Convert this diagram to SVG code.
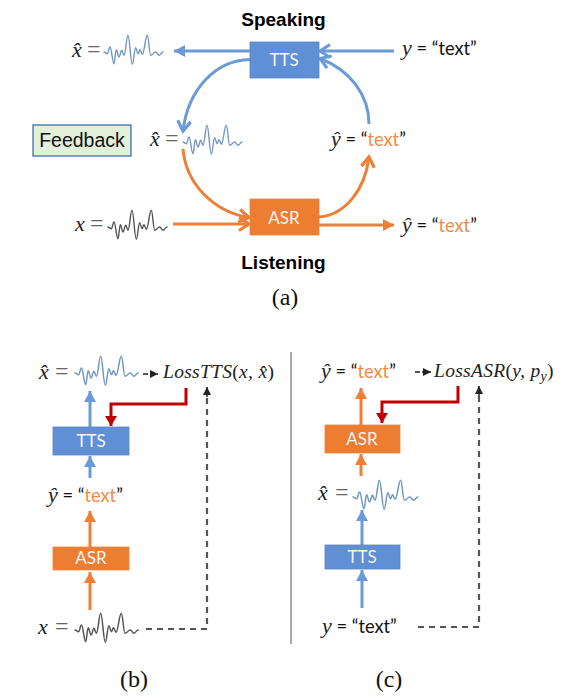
<svg xmlns="http://www.w3.org/2000/svg" width="563" height="699" viewBox="0 0 563 699">
<style>
.hd{font:bold 19px "Liberation Sans",Arial,sans-serif;fill:#000;text-anchor:middle}
.cap{font:24px "Liberation Serif","Times New Roman",serif;fill:#111;text-anchor:middle}
.box{font:17px Lato,"Open Sans",sans-serif;fill:#f6f6f6;text-anchor:middle}
.eq{font:18.3px Lato,"Open Sans",sans-serif;fill:#111}
.m{font-family:"Liberation Serif",serif;font-style:italic;font-size:22px;fill:#222}
.e{font-family:"Liberation Serif",serif;font-size:24px;fill:#666}
.o{fill:#f08a45}
.loss{font-family:"Liberation Serif",serif;font-style:italic;font-size:19.5px;fill:#222;letter-spacing:.3px}
.u{font-style:normal}
.t{fill:#5f90d6;stroke:#5b86c4;stroke-width:.8}
.a{fill:#ed7d31;stroke:#e8853d;stroke-width:.8}
.wave{fill:none;stroke-width:1.4;stroke-linejoin:round;stroke-linecap:round}
.wb{stroke:#7297c4}.wk{stroke:#555}
.c{fill:none;stroke-width:3}
.bl{stroke:#6b9ad9}.or{stroke:#ee7f35}.re{stroke:#c00000}
.da{fill:none;stroke:#555;stroke-width:2.2;stroke-dasharray:6 5}
.sm{fill:none;stroke:#222;stroke-width:1.5}
</style>
<defs>
<path id="w" d="M0 0C1.3 0 2 1.7 3.3 1.7C4.4 1.7 4.9 -5 6 -5C7.6 -5 8.4 11.7 10 11.7C10.9 11.7 11.4 -2.3 12.3 -2.3C13.4 -2.3 13.9 5 15 5C16.1 5 16.6 -1.7 17.7 -1.7C18.6 -1.7 19.1 3.3 20 3.3C21.6 3.3 22.4 -16.7 24 -16.7C25.7 -16.7 26.6 12.3 28.3 12.3C29.7 12.3 30.3 -4.3 31.7 -4.3C32.6 -4.3 33.1 1.7 34 1.7C34.8 1.7 35.2 -2.3 36 -2.3C36.9 -2.3 37.4 2.3 38.3 2.3C40.3 2.3 41.3 -16.7 43.3 -16.7C44.7 -16.7 45.3 3.3 46.7 3.3C48.7 3.3 49.7 0 51.7 0C53 0 53.7 3.3 55 3.3C56.6 3.3 57.4 0 59 0"/>
<marker id="fb" markerUnits="userSpaceOnUse" markerWidth="14" markerHeight="14" refX="11" refY="6" orient="auto"><path d="M0 0L11 6L0 12Z" fill="#6b9ad9"/></marker>
<marker id="fo" markerUnits="userSpaceOnUse" markerWidth="14" markerHeight="14" refX="11" refY="6" orient="auto"><path d="M0 0L11 6L0 12Z" fill="#ee7f35"/></marker>
<marker id="fr" markerUnits="userSpaceOnUse" markerWidth="14" markerHeight="14" refX="10" refY="6" orient="auto"><path d="M0 0L10 6L0 12Z" fill="#c00000"/></marker>
<marker id="fk" markerUnits="userSpaceOnUse" markerWidth="10" markerHeight="10" refX="8" refY="4" orient="auto"><path d="M0 0L8 4L0 8Z" fill="#222"/></marker>
<marker id="ob" markerUnits="userSpaceOnUse" markerWidth="16" markerHeight="18" refX="12" refY="8" orient="auto"><path d="M2 1.5L12 8L2 14.5" fill="none" stroke="#6b9ad9" stroke-width="3.2"/></marker>
<marker id="oo" markerUnits="userSpaceOnUse" markerWidth="16" markerHeight="18" refX="12" refY="8" orient="auto"><path d="M2 1.5L12 8L2 14.5" fill="none" stroke="#ee7f35" stroke-width="3.2"/></marker>
</defs>

<g id="connectors">
<path class="c bl" marker-end="url(#fb)" d="M250 51H174"/>
<path class="c bl" marker-end="url(#ob)" d="M250 59.5C215 60 188 90 183 131"/>
<path class="c bl" marker-end="url(#ob)" d="M394 51H320"/>
<path class="c bl" marker-end="url(#ob)" d="M369 124C369 95 350 70 320 58.5"/>
<path class="c or" marker-end="url(#oo)" d="M183 149C186 185 215 212 249 217.5"/>
<path class="c or" marker-end="url(#oo)" d="M173 224H249"/>
<path class="c or" marker-end="url(#oo)" d="M319 217C345 215 365 190 369 157"/>
<path class="c or" marker-end="url(#fo)" d="M319 225H394"/>
<path class="c bl" marker-end="url(#fb)" d="M90 427V391"/>
<path class="c bl" marker-end="url(#fb)" d="M90 478V456"/>
<path class="c or" marker-end="url(#fo)" d="M90 547V511"/>
<path class="c or" marker-end="url(#fo)" d="M90 610V572"/>
<path class="c re" marker-end="url(#fr)" d="M186 388V404H111V426"/>
<path class="da" d="M146 629H207V396"/>
<path class="sm" marker-end="url(#fk)" d="M207 397V387"/>
<path class="sm" stroke-dasharray="5 2" marker-end="url(#fk)" d="M143 374H158"/>
<path class="c or" marker-end="url(#fo)" d="M361 425V388"/>
<path class="c or" marker-end="url(#fo)" d="M361 476V454"/>
<path class="c bl" marker-end="url(#fb)" d="M362 545V510"/>
<path class="c bl" marker-end="url(#fb)" d="M362 608V570"/>
<path class="c re" marker-end="url(#fr)" d="M458 386V402H382V423"/>
<path class="da" d="M418 627H479V395"/>
<path class="sm" marker-end="url(#fk)" d="M479 396V386"/>
<path class="sm" stroke-dasharray="5 2" marker-end="url(#fk)" d="M415 372H431"/>
</g>

<g id="panel-a">
<text class="hd" x="283.5" y="26">Speaking</text>
<text class="hd" x="283.5" y="269">Listening</text>
<text class="cap" x="285" y="305">(a)</text>
<g id="tts-a"><rect class="t" x="250" y="42" width="69" height="36"/><text class="box" x="284" y="66">TTS</text></g>
<g id="asr-a"><rect class="a" x="250" y="199" width="69" height="36"/><text class="box" x="284" y="224">ASR</text></g>
<g id="feedback"><rect x="33" y="125" width="98" height="31" fill="#e2efd9" stroke="#2e66a8" stroke-width="1.2"/><text x="82" y="147" text-anchor="middle" font-family="'Liberation Sans',Arial,sans-serif" font-size="19.5" fill="#111">Feedback</text></g>
<g id="xhat-a1"><text x="72" y="57"><tspan class="m">x̂</tspan><tspan class="e" x="87">=</tspan></text><use href="#w" class="wave wb" x="104" y="52"/></g>
<g id="xhat-a2"><text x="150" y="146"><tspan class="m">x̂</tspan><tspan class="e" x="165">=</tspan></text><use href="#w" class="wave wb" x="183" y="142"/></g>
<g id="x-a"><text x="75" y="231"><tspan class="m">x</tspan><tspan class="e" x="90">=</tspan></text><use href="#w" class="wave wk" x="108" y="227"/></g>
<g id="y-a"><text class="eq" x="402" y="55"><tspan class="m">y</tspan> = “text”</text></g>
<g id="yhat-a1"><text class="eq" x="331" y="146"><tspan class="m">ŷ</tspan> = “<tspan class="o">text</tspan>”</text></g>
<g id="yhat-a2"><text class="eq" x="402" y="232"><tspan class="m">ŷ</tspan> = “<tspan class="o">text</tspan>”</text></g>
</g>

<g id="panel-b">
<text class="cap" x="134" y="687">(b)</text>
<g id="tts-b"><rect class="t" x="53" y="427" width="76" height="28"/><text class="box" x="91" y="447">TTS</text></g>
<g id="asr-b"><rect class="a" x="53" y="547" width="76" height="23"/><text class="box" x="91" y="564">ASR</text></g>
<g id="xhat-b"><text x="39" y="379"><tspan class="m">x̂</tspan><tspan class="e" x="55">=</tspan></text><use href="#w" class="wave wb" transform="translate(75 373) scale(1.07 1)"/></g>
<g id="loss-b"><text class="loss" x="163" y="378">LossTTS<tspan class="u">(</tspan>x, x̂<tspan class="u">)</tspan></text></g>
<g id="yhat-b"><text class="eq" x="48" y="502"><tspan class="m">ŷ</tspan> = “<tspan class="o">text</tspan>”</text></g>
<g id="x-b"><text x="38" y="634"><tspan class="m">x</tspan><tspan class="e" x="55">=</tspan></text><use href="#w" class="wave wk" transform="translate(75 630) scale(1.07 1)"/></g>
</g>

<line id="divider" x1="291" y1="352" x2="291" y2="644" stroke="#555" stroke-width="1"/>

<g id="panel-c">
<text class="cap" x="389" y="687">(c)</text>
<g id="asr-c"><rect class="a" x="325" y="425" width="75" height="28"/><text class="box" x="362" y="445">ASR</text></g>
<g id="tts-c"><rect class="t" x="325" y="545" width="75" height="24"/><text class="box" x="362" y="563">TTS</text></g>
<g id="yhat-c"><text class="eq" x="321" y="378"><tspan class="m">ŷ</tspan> = “<tspan class="o">text</tspan>”</text></g>
<g id="loss-c"><text class="loss" x="434" y="377">LossASR<tspan class="u">(</tspan>y, p<tspan font-size="14" dy="4">y</tspan><tspan class="u" dy="-4">)</tspan></text></g>
<g id="xhat-c"><text x="318" y="500"><tspan class="m">x̂</tspan><tspan class="e" x="335">=</tspan></text><use href="#w" class="wave wb" transform="translate(353 497) scale(1.1 1)"/></g>
<g id="y-c"><text class="eq" x="322" y="633"><tspan class="m">y</tspan> = “text”</text></g>
</g>
</svg>
